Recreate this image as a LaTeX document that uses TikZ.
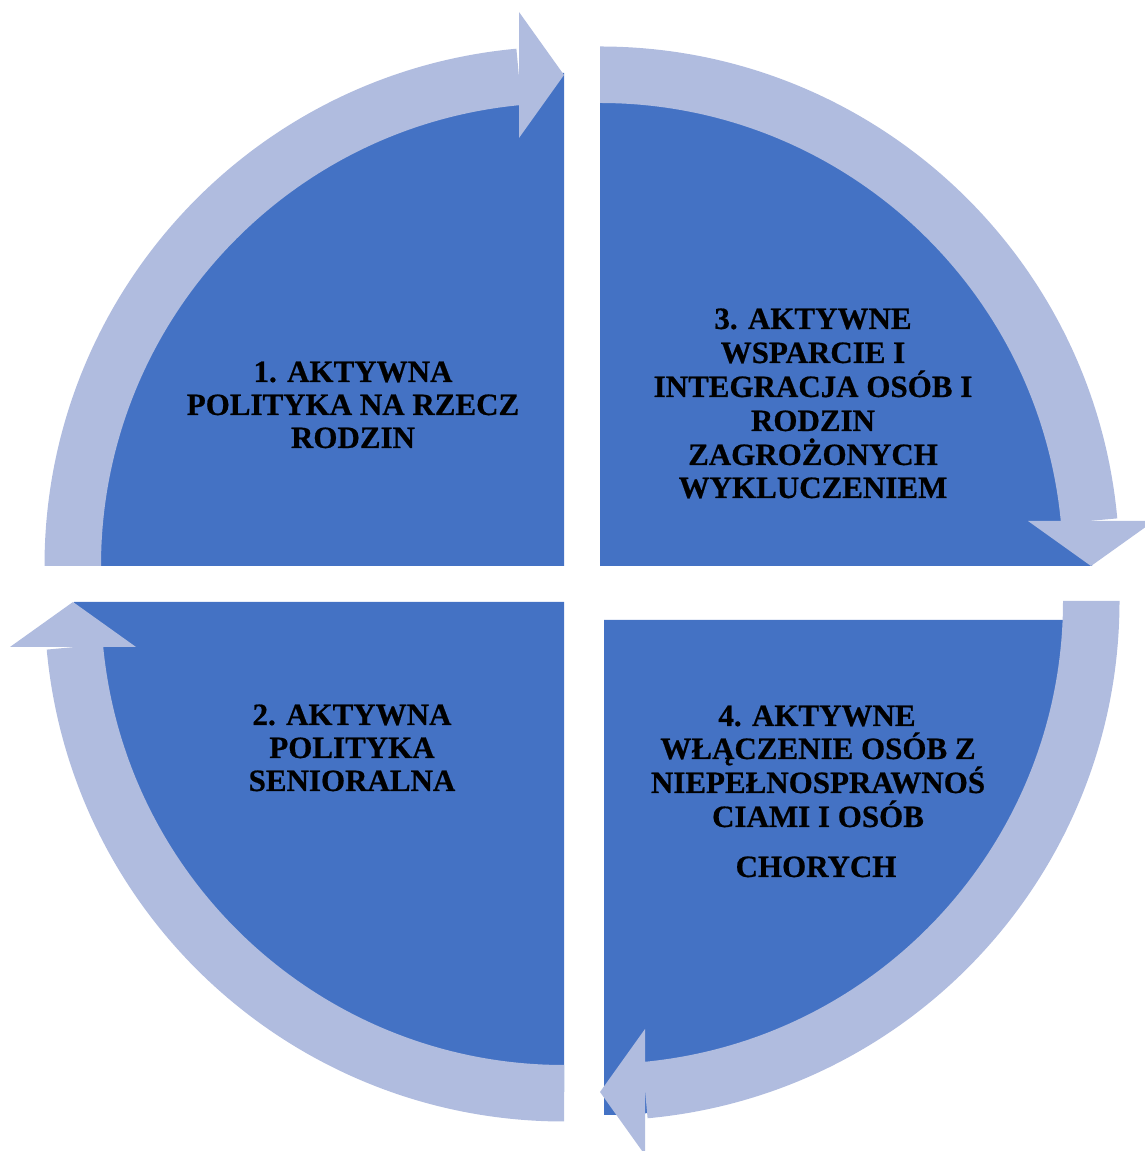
\documentclass[tikz,border=0pt]{standalone}
\usepackage{fontspec}
\setmainfont{Liberation Serif}
\newfontfamily\heavyfont[BoldFont={Liberation Serif Bold}, BoldFeatures={FakeBold=0.6}]{Liberation Serif}
\usetikzlibrary{calc}
\definecolor{wedgeblue}{HTML}{4472C4}
\definecolor{arrowblue}{HTML}{B0BCDF}
\tikzset{
  wedgefill/.style={fill=wedgeblue},
  arrowfill/.style={fill=arrowblue},
  lbl/.style={anchor=base, inner sep=0pt, font=\heavyfont\fontsize{31}{33}\selectfont\bfseries, text=black}
}
% #1 centre, #2 start angle, #3 end angle (clockwise)
\newcommand\cyclearrow[3]{%
  \fill[arrowfill] ($(#1)+(#2:519.5)$) arc[start angle=#2, end angle=#3+5.26, radius=519.5]
    -- ($(#1)+(#3+5.26:463)$) arc[start angle=#3+5.26, end angle=#2, radius=463] -- cycle;
  \fill[arrowfill] ($(#1)+(#3:491)$) -- ($(#1)+(#3:554)+(#3+90:45)$) -- ($(#1)+(#3:428)+(#3+90:45)$) -- cycle;
}
\newcommand\quadwedge[4]{%
  \fill[wedgefill] (#1) -- ++(#2:#4) arc[start angle=#2, end angle=#3, radius=#4] -- cycle;
}
\begin{document}
\begin{tikzpicture}[x=1pt,y=1pt]
\useasboundingbox (0,0) rectangle (1144,1151);
% quadrant corners
\coordinate (w1) at (564,585);
\coordinate (w2) at (600,585);
\coordinate (w3) at (604,531);
\coordinate (w4) at (564,549);
% arrow centres
\coordinate (c1) at (564,585);
\coordinate (c2) at (600,585);
\coordinate (c3) at (600,550);
\coordinate (c4) at (564,549);
% wedges
\quadwedge{w1}{90}{180}{493}
\quadwedge{w2}{0}{90}{492}
\quadwedge{w3}{270}{360}{495}
\quadwedge{w4}{180}{270}{490}
% arrows
\cyclearrow{c1}{180}{90}
\cyclearrow{c2}{90}{0}
\cyclearrow{c3}{0}{-90}
\cyclearrow{c4}{-90}{-180}
% texts
\node[lbl] (t1a) at (353,769) {1. AKTYWNA};
\node[lbl] (t1b) at (353,736) {POLITYKA NA RZECZ};
\node[lbl] (t1c) at (353,703) {RODZIN};
\node[lbl] (t2a) at (352,426) {2. AKTYWNA};
\node[lbl] (t2b) at (352,393) {POLITYKA};
\node[lbl] (t2c) at (352,360) {SENIORALNA};
\node[lbl] (t3a) at (813,822) {3. AKTYWNE};
\node[lbl] (t3b) at (813,788) {WSPARCIE I};
\node[lbl] (t3c) at (813,754) {INTEGRACJA OSÓB I};
\node[lbl] (t3d) at (813,720) {RODZIN};
\node[lbl] (t3e) at (813,686) {ZAGROŻONYCH};
\node[lbl] (t3f) at (813,653) {WYKLUCZENIEM};
\node[lbl] (t4a) at (817,425) {4. AKTYWNE};
\node[lbl] (t4b) at (818,392) {WŁĄCZENIE OSÓB Z};
\node[lbl] (t4c) at (818,358) {NIEPEŁNOSPRAWNOŚ};
\node[lbl] (t4d) at (818,324) {CIAMI I OSÓB};
\node[lbl] (t4e) at (816,274) {CHORYCH};
\end{tikzpicture}
\end{document}
